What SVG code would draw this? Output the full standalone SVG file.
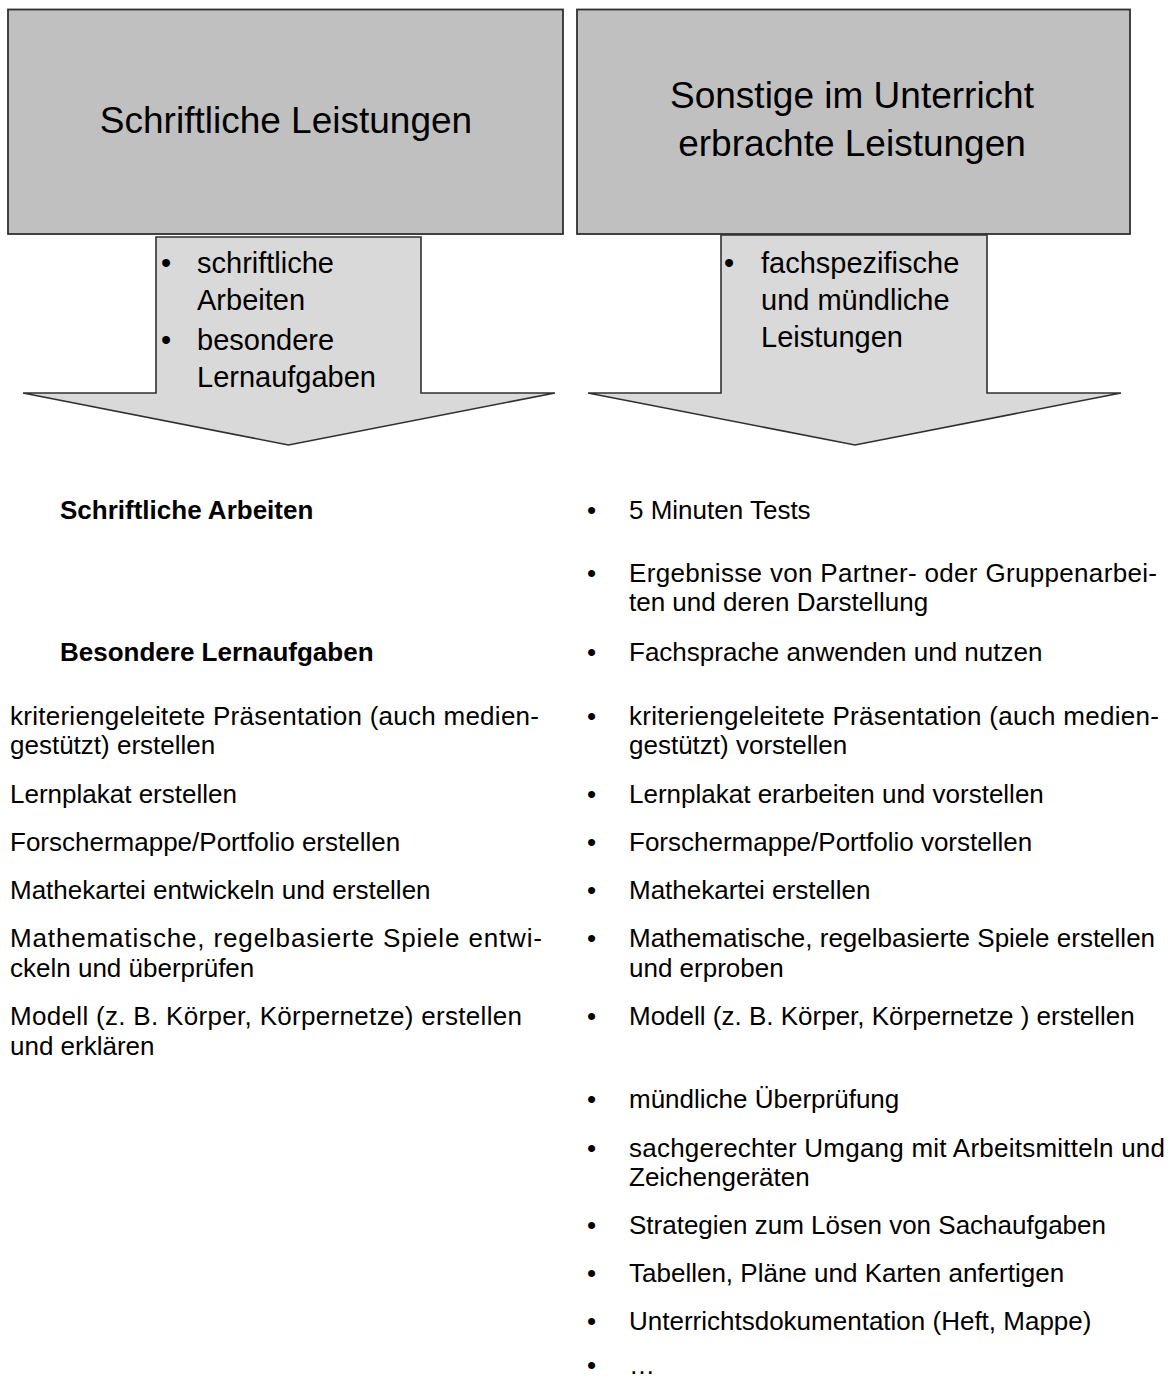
<svg xmlns="http://www.w3.org/2000/svg" width="1173" height="1381" viewBox="0 0 1173 1381">
<style>
text{font-family:"Liberation Sans",Arial,sans-serif;fill:#000}
.box{fill:#c0c0c0;stroke:#303030;stroke-width:1.8}
.arr{fill:#d9d9d9;stroke:#303030;stroke-width:1.6}
.title{font-size:37px;text-anchor:middle}
.at{font-size:29px}
.b{font-size:26px}
.bb{font-size:26px;font-weight:bold}
</style>
<rect width="1173" height="1381" fill="#fff"/>
<g id="node-schriftlich">
<rect class="box" x="8" y="9.5" width="555" height="224.5"/>
<text class="title" x="286" y="133">Schriftliche Leistungen</text>
</g>
<g id="node-sonstige">
<rect class="box" x="577" y="9.5" width="553" height="224.5"/>
<text class="title" x="852" y="108">Sonstige im Unterricht</text>
<text class="title" x="852" y="156">erbrachte Leistungen</text>
</g>
<g id="connectors">
<g id="arrow-left">
<polygon class="arr" points="156,237 421,237 421,393 555,393 288.5,445 23,393 156,393"/>
<text class="at" x="161" y="273">•</text>
<text class="at" x="197" y="273">schriftliche</text>
<text class="at" x="197" y="310">Arbeiten</text>
<text class="at" x="161" y="350">•</text>
<text class="at" x="197" y="350">besondere</text>
<text class="at" x="197" y="387">Lernaufgaben</text>
</g>
<g id="arrow-right">
<polygon class="arr" points="721,235 987,235 987,393 1121,393 855,445 588,393 721,393"/>
<text class="at" x="724" y="273">•</text>
<text class="at" x="761" y="273">fachspezifische</text>
<text class="at" x="761" y="310">und mündliche</text>
<text class="at" x="761" y="347">Leistungen</text>
</g>
</g>
<g id="left-list">
<text class="bb" x="60" y="519">Schriftliche Arbeiten</text>
<text class="bb" x="60" y="661">Besondere Lernaufgaben</text>
<text class="b" x="10" y="725" textLength="529" lengthAdjust="spacing">kriteriengeleitete Präsentation (auch medien-</text>
<text class="b" x="10" y="754">gestützt) erstellen</text>
<text class="b" x="10" y="803">Lernplakat erstellen</text>
<text class="b" x="10" y="851">Forschermappe/Portfolio erstellen</text>
<text class="b" x="10" y="899">Mathekartei entwickeln und erstellen</text>
<text class="b" x="10" y="947" textLength="532" lengthAdjust="spacing">Mathematische, regelbasierte Spiele entwi-</text>
<text class="b" x="10" y="977">ckeln und überprüfen</text>
<text class="b" x="10" y="1025" textLength="512" lengthAdjust="spacing">Modell (z. B. Körper, Körpernetze) erstellen</text>
<text class="b" x="10" y="1055">und erklären</text>
</g>
<g id="right-list">
<text class="b" x="587" y="519">•</text><text class="b" x="629" y="519">5 Minuten Tests</text>
<text class="b" x="587" y="582">•</text><text class="b" x="629" y="582" textLength="528" lengthAdjust="spacing">Ergebnisse von Partner- oder Gruppenarbei-</text>
<text class="b" x="629" y="611">ten und deren Darstellung</text>
<text class="b" x="587" y="661">•</text><text class="b" x="629" y="661">Fachsprache anwenden und nutzen</text>
<text class="b" x="587" y="725">•</text><text class="b" x="629" y="725" textLength="530" lengthAdjust="spacing">kriteriengeleitete Präsentation (auch medien-</text>
<text class="b" x="629" y="754">gestützt) vorstellen</text>
<text class="b" x="587" y="803">•</text><text class="b" x="629" y="803">Lernplakat erarbeiten und vorstellen</text>
<text class="b" x="587" y="851">•</text><text class="b" x="629" y="851">Forschermappe/Portfolio vorstellen</text>
<text class="b" x="587" y="899">•</text><text class="b" x="629" y="899">Mathekartei erstellen</text>
<text class="b" x="587" y="947">•</text><text class="b" x="629" y="947">Mathematische, regelbasierte Spiele erstellen</text>
<text class="b" x="629" y="977">und erproben</text>
<text class="b" x="587" y="1025">•</text><text class="b" x="629" y="1025">Modell (z. B. Körper, Körpernetze ) erstellen</text>
<text class="b" x="587" y="1108">•</text><text class="b" x="629" y="1108">mündliche Überprüfung</text>
<text class="b" x="587" y="1157">•</text><text class="b" x="629" y="1157" textLength="536" lengthAdjust="spacing">sachgerechter Umgang mit Arbeitsmitteln und</text>
<text class="b" x="629" y="1186">Zeichengeräten</text>
<text class="b" x="587" y="1234">•</text><text class="b" x="629" y="1234">Strategien zum Lösen von Sachaufgaben</text>
<text class="b" x="587" y="1282">•</text><text class="b" x="629" y="1282">Tabellen, Pläne und Karten anfertigen</text>
<text class="b" x="587" y="1330">•</text><text class="b" x="629" y="1330">Unterrichtsdokumentation (Heft, Mappe)</text>
<text class="b" x="587" y="1374">•</text><text class="b" x="629" y="1374">…</text>
</g>
</svg>
